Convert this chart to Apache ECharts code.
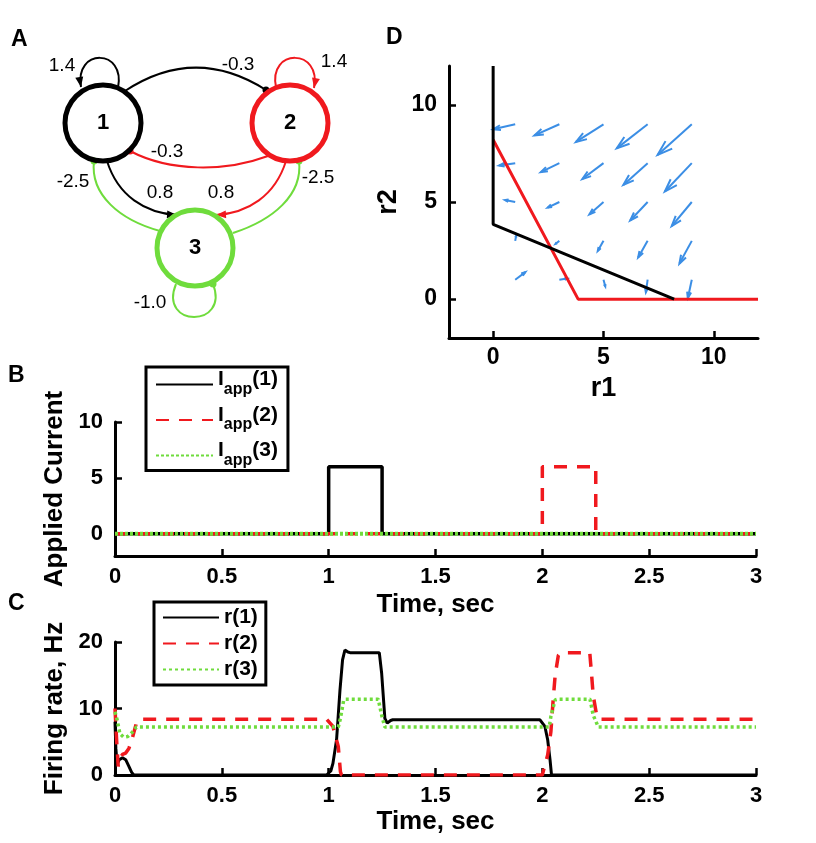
<!DOCTYPE html>
<html><head><meta charset="utf-8">
<script src="https://cdn.jsdelivr.net/npm/echarts@6/dist/echarts.min.js"></script>
<style>html,body{margin:0;padding:0;background:#fff;}#c{width:816px;height:843px;}</style>
</head><body><div id="c"></div>
<script>
// ===== Panel A: network =====
const nodeNames = ['1', '2', '3'];
const edgeFrom = [1, 1, 2, 2, 1, 2, 3, 3, 3];
const edgeTo = [1, 2, 2, 1, 3, 3, 1, 2, 3];
const edgeWeight = [1.4, -0.3, 1.4, -0.3, 0.8, 0.8, -2.5, -2.5, -1.0];

// ===== Panel D: phase plane =====
const nullclineR1 = [[0, 12], [0, 3.85], [8.2, 0]];
const nullclineR2 = [[0, 8.2], [3.85, 0], [12, 0]];
// [r1, r2, dr1, dr2]
const quiverData = [
  [1, 9, -1.00, -0.26], [3, 9, -1.13, -0.57], [5, 9, -1.25, -0.91], [7, 9, -1.40, -1.24], [9, 9, -1.55, -1.58],
  [1, 7, -0.73, -0.12], [3, 7, -0.84, -0.46], [5, 7, -0.96, -0.82], [7, 7, -1.10, -1.12], [9, 7, -1.22, -1.46],
  [1, 5, -0.46, 0.10], [3, 5, -0.53, -0.29], [5, 5, -0.64, -0.64], [7, 5, -0.79, -0.95], [9, 5, -0.91, -1.24],
  [1, 3, 0.04, 0.26], [3, 3, -0.17, -0.15], [5, 3, -0.26, -0.52], [7, 3, -0.43, -0.86], [9, 3, -0.56, -1.17],
  [1, 1, 0.46, 0.39], [3, 1, 0.35, 0.06], [5, 1, 0.08, -0.34], [7, 1, -0.08, -0.65], [9, 1, -0.18, -0.95]
];
const phaseTicks = [0, 5, 10];

// ===== Panel B: applied current =====
const iapp1 = [[0, 0], [1, 0], [1, 6], [1.25, 6], [1.25, 0], [3, 0]];
const iapp2 = [[0, 0], [2, 0], [2, 6], [2.25, 6], [2.25, 0], [3, 0]];
const iapp3 = [[0, 0], [3, 0]];
const currentTicks = [0, 5, 10];

// ===== Panel C: firing rates =====
const rate1 = [[0, 8], [0.004, 4], [0.01, 1.6], [0.02, 2.3], [0.035, 2.6], [0.05, 2.3], [0.065, 1.3], [0.078, 0.4], [0.088, 0],
  [0.99, 0], [1.01, 0.6], [1.02, 1.75], [1.037, 5.3], [1.053, 12.8], [1.065, 17.3], [1.076, 18.8], [1.09, 18.5], [1.1, 18.4],
  [1.237, 18.4], [1.248, 15.3], [1.263, 8.5], [1.274, 7.8], [1.29, 8.2], [1.3, 8.3], [1.989, 8.3], [2.012, 7.3], [2.025, 5.3],
  [2.036, 2.3], [2.043, 0], [3, 0]];
const rate2 = [[0, 10], [0.008, 5], [0.015, 1.3], [0.025, 2.6], [0.035, 3.1], [0.05, 3.3], [0.065, 4], [0.078, 5.2], [0.09, 6.6],
  [0.1, 7.8], [0.115, 8.4], [0.99, 8.4], [1.02, 7.3], [1.045, 4.3], [1.055, 0.5], [1.06, 0], [2.0, 0], [2.012, 1.5], [2.025, 3],
  [2.04, 6.5], [2.05, 11], [2.06, 15], [2.075, 18], [2.09, 18.4], [2.222, 18.4], [2.23, 15.3], [2.238, 12], [2.254, 9],
  [2.265, 8.4], [3, 8.4]];
const rate3 = [[0, 9.5], [0.01, 8.3], [0.023, 6.2], [0.04, 5.7], [0.06, 5.8], [0.08, 6.4], [0.1, 7.2], [1.045, 7.2], [1.055, 8.5],
  [1.07, 11.2], [1.08, 11.4], [1.232, 11.4], [1.248, 9.0], [1.263, 7.2], [2.032, 7.2], [2.04, 8.8], [2.06, 11.3], [2.07, 11.4],
  [2.223, 11.4], [2.238, 9], [2.262, 7.2], [3, 7.2]];

// ===== layout / style =====
const FONT = '"Liberation Sans", Arial, Helvetica, sans-serif';
const BLACK = '#000000', RED = '#f0191e', GREEN = '#6fdc3c', QBLUE = '#3b8ee5';
const nodeColor = [BLACK, RED, GREEN];
const netLayout = {
  nodes: [[103, 123], [290, 123], [195, 248]],
  radius: 38,
  routes: [
    [[118, 88], [126, 48], [74, 48], [81, 87]],
    [[125, 91], [172, 60], [219, 60], [266, 90]],
    [[276, 87], [268, 48], [322, 48], [314, 88]],
    [[268, 156], [225, 172], [170, 172], [130, 151]],
    [[107, 161], [118, 196], [145, 213], [177, 215]],
    [[286, 161], [275, 196], [248, 213], [216, 215]],
    [[160, 231], [120, 220], [90, 195], [94, 161]],
    [[233, 233], [273, 220], [303, 195], [299, 161]],
    [[176, 284], [158, 328], [230, 328], [213, 284]]
  ],
  labels: [[62, 66], [238, 65], [334, 62], [167, 152], [160, 193], [221, 193], [73, 182], [318, 178], [150, 303]]
};

function renderEdge(params, api) {
  const i = params.dataIndex;
  const P = netLayout.routes[i].map(p => api.coord(p));
  const col = nodeColor[edgeFrom[i] - 1];
  const w = api.value(2);
  const ch = [{ type: 'bezierCurve', shape: { x1: P[0][0], y1: P[0][1], cpx1: P[1][0], cpy1: P[1][1], cpx2: P[2][0], cpy2: P[2][1], x2: P[3][0], y2: P[3][1] }, style: { stroke: col, lineWidth: 2, fill: null } }];
  const t = P[3];
  if (w > 0) {
    const dx = P[3][0] - P[2][0], dy = P[3][1] - P[2][1], L = Math.hypot(dx, dy), ux = dx / L, uy = dy / L;
    const hl = 10, hw = 4;
    ch.push({ type: 'polygon', shape: { points: [[t[0], t[1]], [t[0] - ux * hl - uy * hw, t[1] - uy * hl + ux * hw], [t[0] - ux * hl + uy * hw, t[1] - uy * hl - ux * hw]] }, style: { fill: col } });
  } else {
    ch.push({ type: 'circle', shape: { cx: t[0], cy: t[1], r: 3.5 }, style: { fill: col } });
  }
  const lp = api.coord(netLayout.labels[i]);
  ch.push({ type: 'text', style: { text: w.toFixed(1), x: lp[0], y: lp[1], align: 'center', verticalAlign: 'middle', fill: '#000', fontSize: 19, fontFamily: FONT } });
  return { type: 'group', children: ch };
}
function renderNode(params, api) {
  const i = params.dataIndex;
  const c = api.coord(netLayout.nodes[i]);
  const r = api.size([netLayout.radius, 0])[0];
  return { type: 'group', children: [
    { type: 'circle', shape: { cx: c[0], cy: c[1], r: r }, style: { fill: 'none', stroke: nodeColor[i], lineWidth: 5 } },
    { type: 'text', style: { text: nodeNames[i], x: c[0], y: c[1], align: 'center', verticalAlign: 'middle', fill: '#000', fontSize: 22, fontWeight: 'bold', fontFamily: FONT } }
  ] };
}
function renderArrow(params, api) {
  const x = api.value(0), y = api.value(1), u = api.value(2), v = api.value(3);
  const s = api.coord([x, y]), e = api.coord([x + u, y + v]);
  const dx = e[0] - s[0], dy = e[1] - s[1], a = 0.33, b = 0.33;
  const h1 = [e[0] - a * (dx + b * dy), e[1] - a * (dy - b * dx)];
  const h2 = [e[0] - a * (dx - b * dy), e[1] - a * (dy + b * dx)];
  return { type: 'group', children: [
    { type: 'line', shape: { x1: s[0], y1: s[1], x2: e[0], y2: e[1] }, style: { stroke: QBLUE, lineWidth: 2 } },
    { type: 'polyline', shape: { points: [h1, e, h2] }, style: { stroke: QBLUE, lineWidth: 2, fill: null } }
  ] };
}

function axis(o, tickSize, nameSize) {
  const base = {
    type: 'value',
    axisLine: { show: true, onZero: false, lineStyle: { color: '#000', width: 3 } },
    axisTick: { show: true, inside: true, length: 7, lineStyle: { color: '#000', width: 2.5 } },
    axisLabel: { margin: 10, color: '#000', fontSize: tickSize, fontWeight: 'bold', fontFamily: FONT },
    splitLine: { show: false },
    nameLocation: 'middle',
    nameTextStyle: { color: '#000', fontSize: nameSize, fontWeight: 'bold', fontFamily: FONT }
  };
  if (o.ticks) {
    base.axisTick.customValues = o.ticks;
    base.axisLabel.customValues = o.ticks;
    delete o.ticks;
  }
  if (o.labelMargin !== undefined) { base.axisLabel.margin = o.labelMargin; delete o.labelMargin; }
  return Object.assign(base, o);
}
function line(name, xi, data, color, dash, width) {
  return { name: name, type: 'line', xAxisIndex: xi, yAxisIndex: xi, data: data, symbol: 'none', showSymbol: false, color: color,
    lineStyle: { color: color, width: width, type: dash }, animation: false, silent: true };
}
const DASH = [13, 10], DOT = [3, 3];

const chart = echarts.init(document.getElementById('c'), null, { renderer: 'canvas' });
chart.setOption({
  animation: false,
  backgroundColor: '#fff',
  grid: [
    { left: 0, top: 0, width: 400, height: 340 },
    { left: 449, top: 66, width: 309, height: 272 },
    { left: 115, top: 422, width: 641, height: 134 },
    { left: 115, top: 642, width: 641, height: 133 }
  ],
  xAxis: [
    { gridIndex: 0, type: 'value', min: 0, max: 400, show: false },
    axis({ gridIndex: 1, min: -2, max: 12, ticks: phaseTicks, name: 'r1', nameGap: 37, labelMargin: 8 }, 23, 27),
    axis({ gridIndex: 2, min: 0, max: 3, interval: 0.5, name: 'Time, sec', nameGap: 36 }, 22, 26),
    axis({ gridIndex: 3, min: 0, max: 3, interval: 0.5, name: 'Time, sec', nameGap: 34 }, 22, 26)
  ],
  yAxis: [
    { gridIndex: 0, type: 'value', min: 0, max: 340, inverse: true, show: false },
    axis({ gridIndex: 1, min: -2, max: 12, ticks: phaseTicks, name: 'r2', nameGap: 47, labelMargin: 12 }, 23, 27),
    axis({ gridIndex: 2, min: -2, max: 10, ticks: currentTicks, name: 'Applied Current', nameGap: 46, labelMargin: 12 }, 22, 26),
    axis({ gridIndex: 3, min: 0, max: 20, interval: 10, name: 'Firing rate, Hz', nameGap: 44, labelMargin: 12 }, 22, 26)
  ],
  legend: [
    {
      data: ['Iapp(1)', 'Iapp(2)', 'Iapp(3)'], orient: 'vertical', left: 146, top: 367,
      itemWidth: 57, itemHeight: 12, itemGap: 7, padding: [2, 10, 2, 9], selectedMode: false,
      borderColor: '#000', borderWidth: 3,
      itemStyle: { opacity: 0, borderWidth: 0 },
      formatter: n => '{m|I}{s|app}{m|' + n.slice(4) + '}',
      textStyle: { rich: {
        m: { fontSize: 21, fontWeight: 'bold', fontFamily: FONT, color: '#000', padding: [0, 0, 10, 0] },
        s: { fontSize: 16, fontWeight: 'bold', fontFamily: FONT, color: '#000', padding: [10, 0, 0, 0] }
      } }
    },
    {
      data: ['r(1)', 'r(2)', 'r(3)'], orient: 'vertical', left: 154, top: 602,
      itemWidth: 56, itemHeight: 12, itemGap: 5, padding: [5, 8, 5, 8], selectedMode: false,
      borderColor: '#000', borderWidth: 3,
      itemStyle: { opacity: 0, borderWidth: 0 },
      textStyle: { fontSize: 21, fontWeight: 'bold', fontFamily: FONT, color: '#000' }
    }
  ],
  graphic: [
    { type: 'text', left: 11, top: 28, style: { text: 'A', fontSize: 23, fontWeight: 'bold', fontFamily: FONT, fill: '#000' } },
    { type: 'text', left: 386, top: 26, style: { text: 'D', fontSize: 23, fontWeight: 'bold', fontFamily: FONT, fill: '#000' } },
    { type: 'text', left: 8, top: 364, style: { text: 'B', fontSize: 23, fontWeight: 'bold', fontFamily: FONT, fill: '#000' } },
    { type: 'text', left: 8, top: 592, style: { text: 'C', fontSize: 23, fontWeight: 'bold', fontFamily: FONT, fill: '#000' } }
  ],
  series: [
    { type: 'custom', xAxisIndex: 0, yAxisIndex: 0, renderItem: renderEdge, silent: true,
      data: edgeWeight.map((w, i) => [edgeFrom[i], edgeTo[i], w]) },
    { type: 'custom', xAxisIndex: 0, yAxisIndex: 0, renderItem: renderNode, silent: true,
      data: nodeNames.map((n, i) => netLayout.nodes[i]) },
    line('nullR2', 1, nullclineR2, RED, 'solid', 3),
    line('nullR1', 1, nullclineR1, BLACK, 'solid', 3),
    { type: 'custom', xAxisIndex: 1, yAxisIndex: 1, renderItem: renderArrow, silent: true, data: quiverData },
    line('Iapp(1)', 2, iapp1, BLACK, 'solid', 3.5),
    line('Iapp(2)', 2, iapp2, RED, DASH, 3.5),
    line('Iapp(3)', 2, iapp3, GREEN, [3, 2], 4),
    line('r(1)', 3, rate1, BLACK, 'solid', 3),
    line('r(2)', 3, rate2, RED, DASH, 3.5),
    line('r(3)', 3, rate3, GREEN, DOT, 3.5)
  ]
});
</script></body></html>
